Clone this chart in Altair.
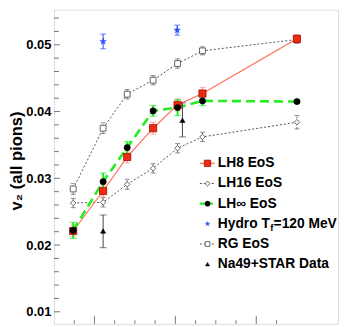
import altair as alt
import pandas as pd

# ---------------- data ----------------
x_pos = [0.95, 2.43, 3.62, 4.90, 6.11, 7.34, 12.01]
lh8 = [0.0221, 0.0281, 0.0332, 0.0375, 0.0410, 0.0427, 0.0509]
lh8_err = [0.0009, 0.0009, 0.0009, 0.0009, 0.0009, 0.0009, 0.0006]
lh16 = [0.0263, 0.0264, 0.0291, 0.0315, 0.0345, 0.0362, 0.0384]
lh16_err = [0.0007, 0.0007, 0.00075, 0.0007, 0.0007, 0.0007, 0.0010]
lhinf = [0.0222, 0.0295, 0.0346, 0.0401, 0.0406, 0.0416, 0.0415]
lhinf_err = [0.0012, 0.0013, 0.0009, 0.0008, 0.0012, 0.0007, 0.0002]
rg = [0.0284, 0.0375, 0.0426, 0.0447, 0.0472, 0.0491, 0.0508]
rg_err = [0.0008, 0.0008, 0.0007, 0.0007, 0.0007, 0.0006, 0.0006]
hydro_x = [2.43, 6.09]
hydro = [0.0505, 0.0522]
hydro_err = [0.0011, 0.00075]
data_x = [2.43, 6.35]
data_v = [0.0221, 0.0387]
data_lo = [0.0196, 0.0362]
data_hi = [0.0245, 0.0413]

y_major = [0.01, 0.02, 0.03, 0.04, 0.05]
y_minor = [0.012, 0.014, 0.016, 0.018, 0.022, 0.024, 0.026, 0.028,
           0.032, 0.034, 0.036, 0.038, 0.042, 0.044, 0.046, 0.048,
           0.052, 0.054]
x_major = [2, 6, 10]
x_minor = [1, 3, 4, 5, 7, 8, 9, 11]

legend_labels = ["LH8 EoS", "LH16 EoS", "LH\u221e EoS", "Hydro T", "RG EoS", "Na49+STAR Data"]

# ---------------- layout ----------------
W, H = 284.3, 314.5
FONT = "Liberation Sans"
LFS = 13.8
xs = alt.Scale(domain=[0, 14.04], nice=False, zero=False)
ys = alt.Scale(domain=[0.00819, 0.05527], nice=False, zero=False)
STAR = ("M0,-1L0.2245,-0.309L0.951,-0.309L0.363,0.118L0.588,0.809L0,0.382"
        "L-0.588,0.809L-0.363,0.118L-0.951,-0.309L-0.2245,-0.309Z")

YAX = alt.Axis(
    values=y_major, format=".2f", ticks=False, domain=False, grid=False,
    labelFont=FONT, labelFontWeight="bold", labelFontSize=13,
    labelColor="black", labelPadding=3,
    title="v\u2082 (all pions)", titleFont=FONT, titleFontWeight="bold",
    titleFontSize=16.5, titleColor="black", titleAngle=270,
    titleX=-37, titleY=151, titleAlign="center", titleBaseline="middle")


def frame(xv, yv, err=None, lo=None, hi=None):
    d = pd.DataFrame({"x": xv, "v": yv})
    if err is not None:
        d["lo"] = [a - b for a, b in zip(yv, err)]
        d["hi"] = [a + b for a, b in zip(yv, err)]
    if lo is not None:
        d["lo"] = lo
        d["hi"] = hi
    return d


def YF(field):
    return alt.Y(field, scale=ys, axis=YAX)


X = alt.X("x:Q", scale=xs, axis=None)
Y = YF("v:Q")


def errbars(d, color, dash=None, cap=6, width=1):
    kw = {} if dash is None else {"strokeDash": dash}
    bar = alt.Chart(d).mark_rule(color=color, strokeWidth=width, **kw).encode(
        x=X, y=YF("lo:Q"), y2="hi:Q")
    c1 = alt.Chart(d).mark_tick(orient="horizontal", color=color, size=cap,
                                thickness=1).encode(x=X, y=YF("lo:Q"))
    c2 = alt.Chart(d).mark_tick(orient="horizontal", color=color, size=cap,
                                thickness=1).encode(x=X, y=YF("hi:Q"))
    return [bar, c1, c2]


d_lh8 = frame(x_pos, lh8, lh8_err)
d_lh16 = frame(x_pos, lh16, lh16_err)
d_inf = frame(x_pos, lhinf, lhinf_err)
d_rg = frame(x_pos, rg, rg_err)
d_hyd = frame(hydro_x, hydro, hydro_err)
d_dat = frame(data_x, data_v, lo=data_lo, hi=data_hi)

GREY = "#555555"
RED_LINE = "#ff6a50"
RED = "#f02a10"
GREEN = "#22ee22"
BLUE = "#2a4cff"

yt_major = alt.Chart(pd.DataFrame({"t": y_major})).mark_rule(color="#777777").encode(
    y=YF("t:Q"), x=alt.value(0), x2=alt.value(6))
yt_minor = alt.Chart(pd.DataFrame({"t": y_minor})).mark_rule(color="#777777").encode(
    y=YF("t:Q"), x=alt.value(0), x2=alt.value(5))
xt_major = alt.Chart(pd.DataFrame({"t": x_major})).mark_rule(color="#777777").encode(
    x=alt.X("t:Q", scale=xs, axis=None), y=alt.value(H), y2=alt.value(H - 8))
xt_minor = alt.Chart(pd.DataFrame({"t": x_minor})).mark_rule(color="#777777").encode(
    x=alt.X("t:Q", scale=xs, axis=None), y=alt.value(H), y2=alt.value(H - 3.5))

layers = [yt_major, yt_minor, xt_major, xt_minor]

# RG EoS
layers += errbars(d_rg, "#666666", dash=[2, 1.5], cap=5)
layers.append(alt.Chart(d_rg).mark_line(color=GREY, strokeDash=[2, 2], strokeWidth=1).encode(x=X, y=Y))
# LH16
layers += errbars(d_lh16, "#666666", dash=[2, 1.5], cap=5)
layers.append(alt.Chart(d_lh16).mark_line(color=GREY, strokeDash=[2, 2], strokeWidth=1).encode(x=X, y=Y))
# LH8
layers += errbars(d_lh8, "#ff8a80", cap=6)
layers.append(alt.Chart(d_lh8).mark_line(color=RED_LINE, strokeWidth=1.1).encode(x=X, y=Y))
# LH inf
layers += errbars(d_inf, GREEN, cap=7, width=2)
layers.append(alt.Chart(d_inf).mark_line(color=GREEN, strokeDash=[9, 5], strokeWidth=2.6).encode(x=X, y=Y))
# hydro & data
layers += errbars(d_hyd, BLUE, cap=6)
layers += errbars(d_dat, "#444444", cap=7)

# markers
layers.append(alt.Chart(d_rg).mark_point(shape="square", size=34, fill="white", fillOpacity=1,
                                         stroke="#666666", strokeWidth=1, opacity=1).encode(x=X, y=Y))
layers.append(alt.Chart(d_lh16).mark_point(shape="diamond", size=30, fill="white", fillOpacity=1,
                                           stroke="#666666", strokeWidth=1, opacity=1).encode(x=X, y=Y))
layers.append(alt.Chart(d_lh8).mark_point(shape="square", size=52, fill=RED, fillOpacity=1,
                                          stroke="#a01000", strokeWidth=0.8, opacity=1).encode(x=X, y=Y))
layers.append(alt.Chart(d_inf).mark_point(shape="circle", size=40, fill="black", fillOpacity=1,
                                          stroke="black", strokeWidth=0.5, opacity=1).encode(x=X, y=Y))
layers.append(alt.Chart(d_hyd).mark_point(shape=STAR, size=45, fill=BLUE, fillOpacity=1,
                                          stroke=BLUE, strokeWidth=0.5, opacity=1).encode(x=X, y=Y))
layers.append(alt.Chart(d_dat).mark_point(shape="triangle-up", size=28, fill="black", fillOpacity=1,
                                          stroke="black", strokeWidth=0.5, opacity=1).encode(x=X, y=Y))

# ---------------- manual legend (pixel coordinates) ----------------
LX_TEXT, LX_SYM, LX0, LX1 = 164, 153.7, 146, 161
LY0, LDY = 153.8, 20.2
rows = [LY0 + i * LDY for i in range(len(legend_labels))]
PX = alt.X("px:Q", scale=None)
PY = alt.Y("py:Q", scale=None)

leg_text = pd.DataFrame({"px": [LX_TEXT] * len(legend_labels), "py": rows, "label": legend_labels})
layers.append(alt.Chart(leg_text).mark_text(align="left", baseline="middle", font=FONT,
                                            fontWeight="bold", fontSize=LFS, color="black").encode(
    x=PX, y=PY, text="label:N"))
# subscript f and rest of the Hydro label
w_hydro_T = 3.778 * LFS
sub = pd.DataFrame({"px": [LX_TEXT + w_hydro_T + 0.3], "py": [rows[3] + 4], "label": ["f"]})
layers.append(alt.Chart(sub).mark_text(align="left", baseline="middle", font=FONT,
                                       fontWeight="bold", fontSize=9.5, color="black").encode(
    x=PX, y=PY, text="label:N"))
rest = pd.DataFrame({"px": [LX_TEXT + w_hydro_T + 3.7], "py": [rows[3]], "label": ["=120 MeV"]})
layers.append(alt.Chart(rest).mark_text(align="left", baseline="middle", font=FONT,
                                        fontWeight="bold", fontSize=LFS, color="black").encode(
    x=PX, y=PY, text="label:N"))


def leg_line(i, color, width, dash=None):
    kw = {} if dash is None else {"strokeDash": dash}
    d = pd.DataFrame({"px": [LX0], "px2": [LX1], "py": [rows[i]]})
    return alt.Chart(d).mark_rule(color=color, strokeWidth=width, **kw).encode(
        x=PX, x2="px2:Q", y=PY)


def leg_sym(i, **kw):
    d = pd.DataFrame({"px": [LX_SYM], "py": [rows[i]]})
    return alt.Chart(d).mark_point(opacity=1, fillOpacity=1, **kw).encode(x=PX, y=PY)


layers += [
    leg_line(0, RED_LINE, 1.2),
    leg_sym(0, shape="square", size=40, fill=RED, stroke="#a01000", strokeWidth=0.8),
    leg_line(1, GREY, 1, [2, 2]),
    leg_sym(1, shape="diamond", size=24, fill="white", stroke="#666666", strokeWidth=1),
    leg_line(2, GREEN, 2.4, [5, 3]),
    leg_sym(2, shape="circle", size=26, fill="black", stroke="black", strokeWidth=0.5),
    leg_sym(3, shape=STAR, size=22, fill=BLUE, stroke=BLUE, strokeWidth=0.5),
    leg_line(4, GREY, 1, [2, 2]),
    leg_sym(4, shape="square", size=22, fill="white", stroke="#666666", strokeWidth=1),
    leg_sym(5, shape="triangle-up", size=16, fill="black", stroke="black", strokeWidth=0.5),
]

chart = alt.layer(*layers).properties(
    width=W, height=H,
    padding={"left": 46, "top": 1.5, "right": 10, "bottom": 2},
    autosize=alt.AutoSizeParams(type="none"),
).configure_view(stroke="#808080", strokeWidth=1.5).configure(background="white")

chart.save("out.html", embed_options={"renderer": "svg", "actions": False})
